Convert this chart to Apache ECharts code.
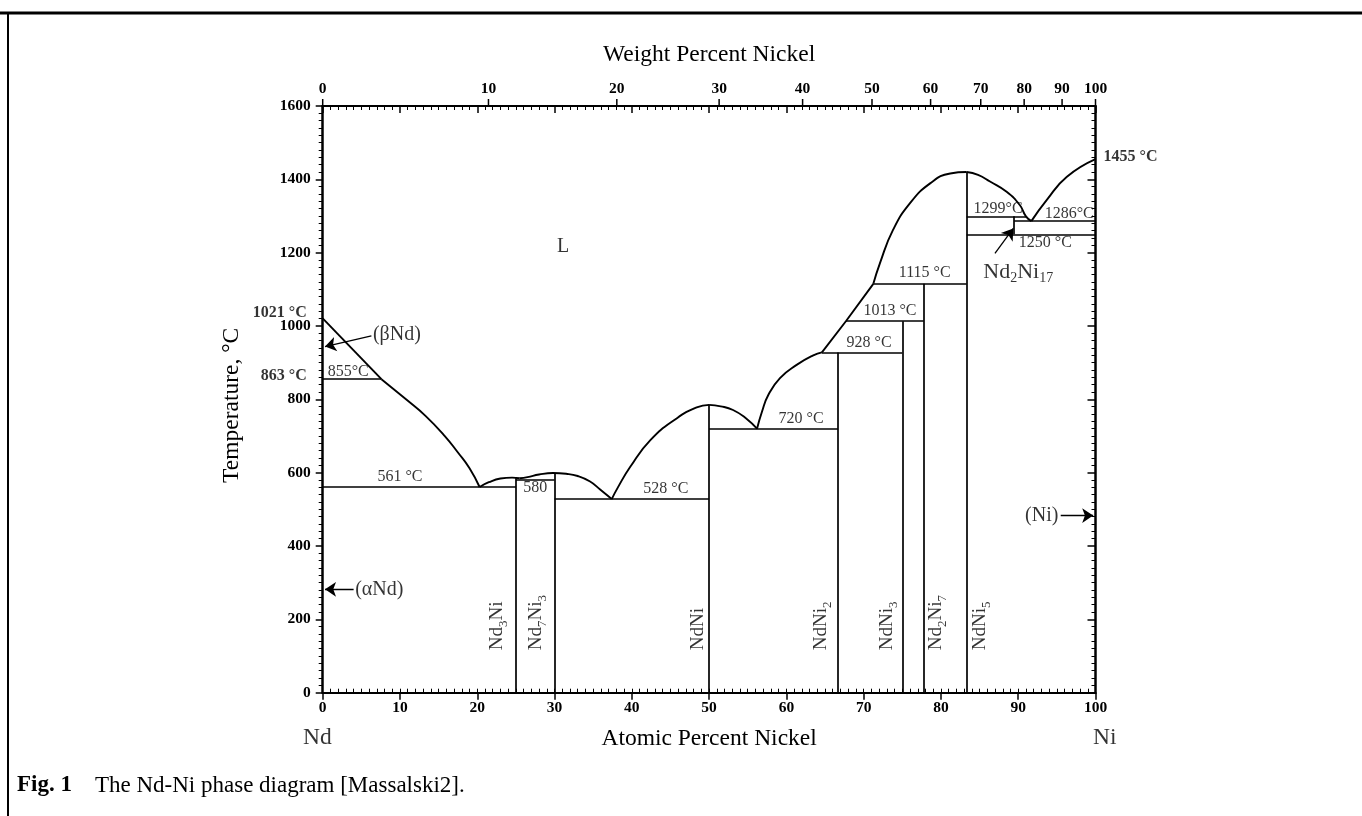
<!DOCTYPE html>
<html><head><meta charset="utf-8">
<script src="https://cdn.jsdelivr.net/npm/echarts@6/dist/echarts.min.js"></script>
<style>html,body{margin:0;padding:0;background:#fff}#c{width:1362px;height:816px}</style>
</head><body><div id="c"></div>
<script>
// ---------- DATA ----------
const atomicTicks = [0,10,20,30,40,50,60,70,80,90,100];
const weightTickLabels = [0,10,20,30,40,50,60,70,80,90,100];
const tempTicks = [0,200,400,600,800,1000,1200,1400,1600];

// liquidus / boundary curves  [at.% Ni, T °C]
const liquidusNdStraight = [[0,1021],[7.6,855]];
const liquidusNd = [[7.6,855],[10.9,798],[13.3,755],[15.8,700],[17.5,655],[19,612],[20.3,561]];
const liquidusNd3Ni = [[20.3,561],[21.5,574],[23,584],[24.5,586.5],[25.5,585]];
const liquidusNd7Ni3 = [[25.5,585],[26.5,588],[28,595],[29.8,599],[31.5,597],[33,591],[34.6,576],[35.9,554],[37.4,528]];
const liquidusNdNi = [[37.4,528],[38.2,560],[39.8,616],[42.4,689],[45.8,748],[48.4,778],[50,785]];
const liquidusNdNiRight = [[50,785],[51.5,781],[53.1,771],[54.8,748],[56.2,720]];
const liquidusNdNi2 = [[56.2,720],[56.85,767],[57.66,812],[59.17,858],[61.33,894],[63.48,920],[64.6,928]];
const liquidusSteps = [[64.6,928],[67.7,1013],[71.25,1115]];
const liquidusNdNi5Left = [[71.25,1115],[72.1,1171],[73.8,1262],[76,1335],[78.6,1389],[81.2,1416],[83.33,1420]];
const liquidusNdNi5Right = [[83.33,1420],[84.8,1412],[86.35,1394],[88.5,1366],[90.2,1330],[91.0,1299],[91.7,1286]];
const liquidusNi = [[91.7,1286],[93.7,1344],[96.3,1407],[100,1455]];

// invariant horizontals [T, x from, x to]
const invariants = [[855,0,7.6],[561,0,25],[580,25,30],[528,30,50],[720,50,66.67],[928,64.6,75],[1013,67.7,77.78],[1115,71.25,83.33],[1299,83.33,91.0],[1286,89.47,100],[1250,83.33,100]];
// compound verticals [x, T from, T to]
const compounds = [[25,0,586],[30,0,599],[50,0,785],[66.67,0,928],[75,0,1013],[77.78,0,1115],[83.33,0,1420],[89.47,1250,1299]];

// compound names (rotated) [label, x, T]
const compoundNames = [['Nd{s|3}Ni',22.5,116],['Nd{s|7}Ni{s|3}',27.6,116],['NdNi',48.6,116],['NdNi{s|2}',64.5,116],['NdNi{s|3}',73.0,116],['Nd{s|2}Ni{s|7}',79.4,116],['NdNi{s|5}',85.0,116]];
// temperature annotations [text, x, T]
const tempNotes = [['855°C',3.3,876],['561 °C',10.0,589],['580',27.5,558],['528 °C',44.4,555],['720 °C',61.9,746],['928 °C',70.7,954],['1013 °C',73.4,1042],['1115 °C',77.9,1144],['1299°C',87.4,1321],['1286°C',96.6,1307],['1250 °C',93.5,1227]];
const meltingLeft = [['1021 °C',0,1035],['863 °C',0,864]];
const meltingRight = [['1455 °C',100,1462]];
const phaseL = [['L',31.1,1216]];
const phaseNd2Ni17 = [['Nd{m|2}Ni{m|17}',90.0,1148]];
const arrowLabelsLeft = [['(βNd)',6.5,975],['(αNd)',4.2,282]];
const arrowLabelsRight = [['(Ni)',95.2,483]];
const arrows = [[[6.3,973],[0.3,944]],[[4.0,282],[0.3,282]],[[95.5,483],[99.7,483]],[[86.99,1198],[89.36,1266]]];
const endMembers = [['Nd',-0.7,-123],['Ni',101.2,-123]];

// ---------- CHART ----------
const F = '"Liberation Serif","Times New Roman",serif';
const M_NI = 58.69, M_ND = 144.24;
const wtToAt = w => w <= 0 ? 0 : w >= 100 ? 100 : 100 * (w / M_NI) / (w / M_NI + (100 - w) / M_ND);

const black = '#000';
const chart = echarts.init(document.getElementById('c'), null, {renderer:'canvas'});

function textSeries(items, label) {
  return {
    type:'scatter', symbol:'circle', symbolSize:1, silent:true, clip:false, z:6,
    itemStyle:{color:'rgba(0,0,0,0)'},
    data: items.map(d => ({name:d[0], value:[d[1], d[2]]})),
    label: Object.assign({show:true, position:'inside', formatter:'{b}', color:black, fontFamily:F, fontSize:16}, label)
  };
}
function curveSeries(pts, smooth) {
  return {type:'line', data:pts, showSymbol:false, symbol:'none', silent:true, z:3,
    smooth: smooth ? 0.5 : false,
    lineStyle:{color:black, width:1.9}, clip:false};
}

const straightData = invariants.map(h => ({coords:[[h[1],h[0]],[h[2],h[0]]]}))
  .concat(compounds.map(v => ({coords:[[v[0],v[1]],[v[0],v[2]]]})));

const option = {
  animation:false,
  backgroundColor:'#fff',
  grid:{left:322.7, right:266.5, top:106, bottom:123.3, containLabel:false},
  xAxis:[
    {type:'value', min:0, max:100, interval:10, position:'bottom',
     axisLine:{onZero:false, lineStyle:{color:black, width:2}},
     axisTick:{inside:false, length:7, lineStyle:{color:black, width:1.5}},
     axisLabel:{margin:7, color:black, fontFamily:F, fontWeight:'bold', fontSize:15.5},
     splitLine:{show:false},
     name:'Atomic Percent Nickel', nameLocation:'middle', nameGap:34,
     nameTextStyle:{color:black, fontFamily:F, fontSize:23.5}},
    {type:'value', min:0, max:100, interval:1, position:'bottom',
     axisLine:{show:false, onZero:false}, axisTick:{inside:true, length:4, lineStyle:{color:black, width:1}},
     axisLabel:{show:false}, splitLine:{show:false}},
    {type:'value', min:0, max:100, interval:10, position:'top',
     axisLine:{onZero:false, lineStyle:{color:black, width:2}},
     axisTick:{inside:true, length:7, lineStyle:{color:black, width:1.5}},
     minorTick:{show:true, splitNumber:10, length:4, lineStyle:{color:black, width:1}},
     axisLabel:{show:false}, splitLine:{show:false},
     name:'Weight Percent Nickel', nameLocation:'middle', nameGap:39,
     nameTextStyle:{color:black, fontFamily:F, fontSize:23.5}}
  ],
  yAxis:[
    {type:'value', min:tempTicks[0], max:tempTicks[tempTicks.length-1], interval:200, position:'left',
     axisLine:{show:true, onZero:false, lineStyle:{color:black, width:2.5}},
     axisTick:{inside:false, length:7, lineStyle:{color:black, width:1.5}},
     minorTick:{show:true, splitNumber:10, length:4, lineStyle:{color:black, width:1}},
     axisLabel:{margin:12, color:black, fontFamily:F, fontWeight:'bold', fontSize:15.5, formatter:v => String(v)},
     splitLine:{show:false},
     name:'Temperature, °C', nameLocation:'middle', nameGap:79, nameRotate:90,
     nameTextStyle:{color:black, fontFamily:F, fontSize:23.5, padding:[0,12,0,0]}},
    {type:'value', min:tempTicks[0], max:tempTicks[tempTicks.length-1], interval:200, position:'right',
     axisLine:{show:true, onZero:false, lineStyle:{color:black, width:2.5}},
     axisTick:{inside:true, length:8, lineStyle:{color:black, width:1.5}},
     minorTick:{show:true, splitNumber:10, length:4, lineStyle:{color:black, width:1}},
     axisLabel:{show:false}, splitLine:{show:false}}
  ],
  series:[
    curveSeries(liquidusNdStraight, false),
    curveSeries(liquidusNd, true),
    curveSeries(liquidusNd3Ni, true),
    curveSeries(liquidusNd7Ni3, true),
    curveSeries(liquidusNdNi, true),
    curveSeries(liquidusNdNiRight, true),
    curveSeries(liquidusNdNi2, true),
    curveSeries(liquidusSteps, false),
    curveSeries(liquidusNdNi5Left, true),
    curveSeries(liquidusNdNi5Right, true),
    curveSeries(liquidusNi, true),
    {type:'lines', coordinateSystem:'cartesian2d', silent:true, z:3,
     lineStyle:{color:black, width:1.7, opacity:1}, data:straightData},
    {type:'lines', coordinateSystem:'cartesian2d', silent:true, z:4,
     symbol:['none','arrow'], symbolSize:[0,11],
     lineStyle:{color:black, width:1.3, opacity:1}, itemStyle:{color:black},
     data:arrows.map(a => ({coords:a}))},
    {type:'custom', xAxisIndex:0, yAxisIndex:0, clip:false, silent:true, z:5,
     data: weightTickLabels.map(w => [wtToAt(w), tempTicks[tempTicks.length-1], w]),
     renderItem:(params, api) => {
       const p = api.coord([api.value(0), api.value(1)]);
       return {type:'group', children:[
         {type:'line', shape:{x1:p[0], y1:p[1], x2:p[0], y2:p[1]-7}, style:{stroke:black, lineWidth:1.5}},
         {type:'text', x:p[0], y:p[1]-9, style:{text:String(api.value(2)), align:'center', verticalAlign:'bottom',
           font:'bold 15.5px "Liberation Serif"', fill:black}}
       ]};
     }},
    textSeries(tempNotes, {fontSize:16}),
    textSeries(meltingLeft, {fontSize:16, fontWeight:'bold', align:'right', offset:[-16,0]}),
    textSeries(meltingRight, {fontSize:16, fontWeight:'bold', align:'left', offset:[8,0]}),
    textSeries(arrowLabelsLeft, {fontSize:20, align:'left'}),
    textSeries(arrowLabelsRight, {fontSize:20, align:'right'}),
    textSeries(endMembers, {fontSize:23.5}),
    textSeries(phaseL, {fontSize:20}),
    textSeries(phaseNd2Ni17, {fontSize:22, rich:{m:{fontSize:14, padding:[14,0,0,0], fontFamily:F, color:black}}}),
    textSeries(compoundNames, {fontSize:19, rotate:90, align:'left', verticalAlign:'middle',
      rich:{s:{fontSize:13, padding:[13,0,0,0], fontFamily:F, color:black}}})
  ],
  graphic:[
    {type:'line', shape:{x1:0, y1:13, x2:1362, y2:13}, style:{stroke:black, lineWidth:3}, silent:true},
    {type:'line', shape:{x1:8, y1:13, x2:8, y2:816}, style:{stroke:black, lineWidth:2}, silent:true},
    {type:'text', left:17, top:774, silent:true,
     style:{text:'{b|Fig. 1}    The Nd-Ni phase diagram [Massalski2].', font:'23px "Liberation Serif"', fill:black,
       rich:{b:{fontWeight:'bold', fontSize:23, fontFamily:F, fill:black}}}}
  ]
};
chart.setOption(option);
</script></body></html>
